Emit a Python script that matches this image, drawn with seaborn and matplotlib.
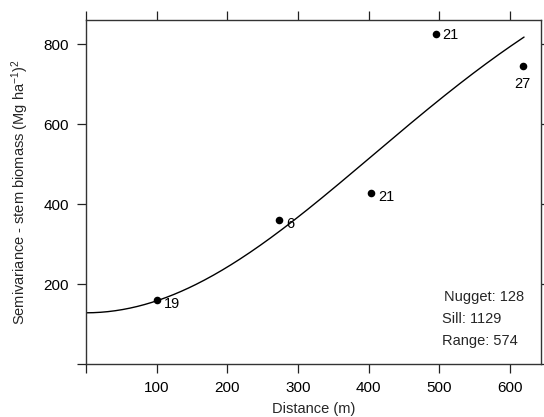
import numpy as np
import pandas as pd
import matplotlib
matplotlib.use("Agg")
import matplotlib.pyplot as plt
import seaborn as sns

# Empirical semivariogram points
distance = [100, 273, 404, 495, 618]
semivariance = [160, 360, 427, 825, 745]
npairs = ["19", "6", "21", "21", "27"]

# Fitted Gaussian model parameters (shown on chart)
nugget = 128
sill = 1129
vrange = 574

x_ticks = [0, 100, 200, 300, 400, 500, 600]
x_labels = ["", "100", "200", "300", "400", "500", "600"]
y_ticks = [0, 200, 400, 600, 800]
y_labels = ["", "200", "400", "600", "800"]

sns.set_theme(style="ticks")
plt.rcParams["font.family"] = ["Liberation Sans", "DejaVu Sans"]
plt.rcParams["mathtext.fontset"] = "custom"
plt.rcParams["mathtext.rm"] = "Liberation Sans"
plt.rcParams["mathtext.it"] = "Liberation Sans"
plt.rcParams["mathtext.bf"] = "Liberation Sans:bold"

fig = plt.figure(figsize=(5.44, 4.17), dpi=100)
ax = fig.add_axes([86 / 544, 1 - 364 / 417, (541 - 86) / 544, (364 - 20) / 417])

h = np.linspace(0, 620, 300)
model = nugget + (sill - nugget) * (1 - np.exp(-(h / vrange) ** 2))
curve = pd.DataFrame({"h": h, "g": model})
sns.lineplot(data=curve, x="h", y="g", ax=ax, color="black", linewidth=1.0)

pts = pd.DataFrame({"d": distance, "s": semivariance, "n": npairs})
sns.scatterplot(data=pts, x="d", y="s", ax=ax, color="black", s=30,
                edgecolor="black", linewidth=0, zorder=3)

offsets = [(5, -3, "left", "center"), (5, -3, "left", "center"),
           (5, -3, "left", "center"), (5, -1, "left", "center"),
           (0, -8, "center", "top")]
for (d, s, n), (dx, dy, ha, va) in zip(zip(distance, semivariance, npairs), offsets):
    ax.annotate(n, (d, s), xytext=(dx, dy), textcoords="offset points",
                ha=ha, va=va, fontsize=10.5, color="black")

ax.set_xlim(0, 644)
ax.set_ylim(0, 860)
ax.set_xticks(x_ticks)
ax.set_xticklabels(x_labels)
ax.set_yticks(y_ticks)
ax.set_yticklabels(y_labels)
ax.tick_params(direction="out", length=6.5, width=0.9, colors="#222222",
               labelsize=11, labelcolor="black", pad=6,
               top=True, right=True, labeltop=False, labelright=False)
for sp in ax.spines.values():
    sp.set_visible(True)
    sp.set_linewidth(1.0)
    sp.set_color("#333333")

ax.set_xlabel("Distance (m)", fontsize=10.5, labelpad=5)
ax.set_ylabel("Semivariance - stem biomass (Mg ha$^{-1}$)$^2$", fontsize=10.5, labelpad=9)

stats = ["Nugget: 128", "Sill: 1129", "Range: 574"]
for i, t in enumerate(stats):
    ax.text(0.787 if i == 0 else 0.783, 0.196 - i * 0.064, t,
            transform=ax.transAxes, fontsize=10.5, ha="left", va="center")

fig.savefig("out.png", dpi=100)
